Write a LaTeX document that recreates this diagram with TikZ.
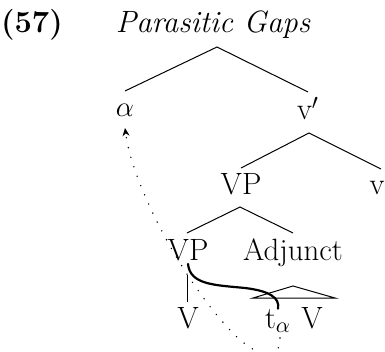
\documentclass[tikz,border=0pt]{standalone}
\usetikzlibrary{positioning}
\usetikzlibrary{arrows.meta}
\tikzset{treenode/.style={anchor=base,inner sep=0pt,
font=\fontsize{15.4}{18}\selectfont}}
\tikzset{branch/.style={line width=0.5pt}}
\tikzset{movement/.style={line width=1.1pt,line cap=round}}
\tikzset{chainpath/.style={line width=0.8pt,dash pattern=on 0pt off 5pt,line cap=round}}

\begin{document}
\begin{tikzpicture}[x=0.5pt,y=-0.5pt]
        \useasboundingbox (0,0) rectangle (385,352);

        \node[treenode,font=\fontsize{15.4}{18}\selectfont\bfseries] (exnum) at (32,33) {(57)};
        \node[treenode,font=\fontsize{15.4}{18}\selectfont\itshape] (extitle) at (213,33) {Parasitic Gaps};

        \node[treenode] (alpha) at (125,117) {$\alpha$};
        \node[treenode] (vbar) at (308,120) {v$'$};
        \node[treenode] (vpA) at (241,195) {VP};
        \node[treenode] (vlittle) at (377,195) {v};
        \node[treenode] (vpB) at (188,260) {VP};
        \node[treenode] (adjunct) at (293,260) {Adjunct};
        \node[treenode] (vhead) at (188,328) {V};
        \node[treenode] (trace) at (278,328) {t$_\alpha$};
        \node[treenode] (vroof) at (312,328) {V};

        \coordinate (rootApex) at (217,47);
        \coordinate (alphaTop) at (125,91);
        \coordinate (vbarTop) at (308,92);
        \coordinate (vbarApex) at (309,133);
        \coordinate (vpATop) at (241,168);
        \coordinate (vlittleTop) at (381,169);
        \coordinate (vpAApex) at (240,207);
        \coordinate (vpBTop) at (187,233);
        \coordinate (adjunctTop) at (293,233);
        \coordinate (vheadStem) at (187,275);
        \coordinate (vheadTop) at (187,302);
        \coordinate (roofApex) at (293,286);
        \coordinate (roofLeft) at (253,298);
        \coordinate (roofRight) at (335,298);
        \coordinate (chainStart) at (280,338);
        \coordinate (chainBend) at (230,330);
        \coordinate (alphaFoot) at (125,128);

        % branches
        \draw[branch] (alphaTop) -- (rootApex) -- (vbarTop);
        \draw[branch] (vpATop) -- (vbarApex) -- (vlittleTop);
        \draw[branch] (vpBTop) -- (vpAApex) -- (adjunctTop);
        \draw[branch] (vheadStem) -- (vheadTop);
        \draw[branch] (roofLeft) -- (roofApex) -- (roofRight) -- cycle;

        % movement line and chain
        \draw[movement] ([yshift=-1.5pt]vpB.south) .. controls (190,285) and (215,285) .. (245,288)
            .. controls (270,291) and (280,298) .. (trace.north);
        \draw[chainpath,-{Stealth[length=4pt,width=3.5pt]}] (chainStart) .. controls (280,368) and (250,352) .. (chainBend)
            .. controls (180,277) and (132,183) .. (alphaFoot);

    \end{tikzpicture}
\end{document}
